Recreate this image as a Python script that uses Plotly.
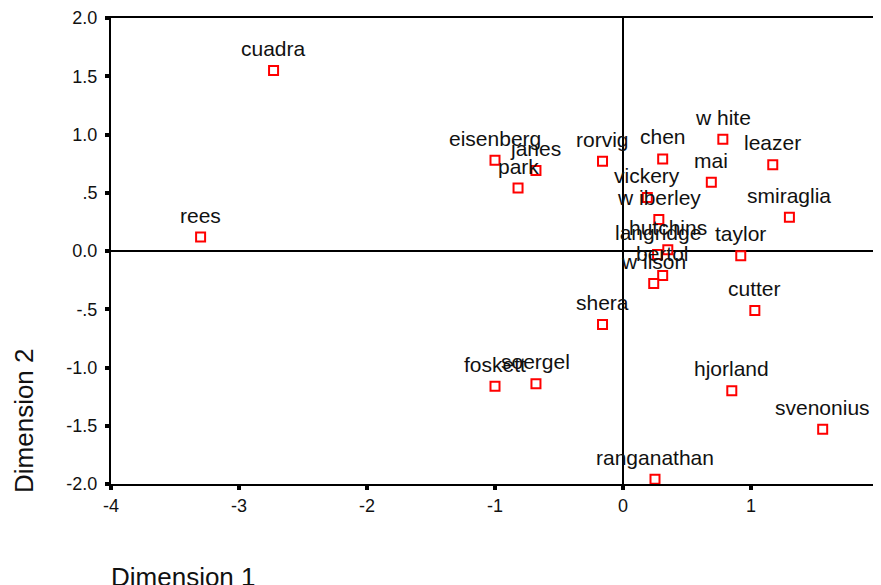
import plotly.graph_objects as go

names = ["cuadra", "rees", "eisenberg", "janes", "park", "rorvig", "chen", "white",
         "leazer", "mai", "vickery", "wiberley", "smiraglia", "hutchins", "langridge",
         "taylor", "bertol", "wilson", "cutter", "shera", "foskett", "soergel",
         "hjorland", "svenonius", "ranganathan"]
dim1 = [-2.73, -3.30, -1.00, -0.68, -0.82, -0.16, 0.31, 0.78,
        1.17, 0.69, 0.19, 0.28, 1.30, 0.35, 0.27,
        0.92, 0.31, 0.24, 1.03, -0.16, -1.00, -0.68,
        0.85, 1.56, 0.25]
dim2 = [1.55, 0.12, 0.78, 0.69, 0.54, 0.77, 0.79, 0.96,
        0.74, 0.59, 0.46, 0.27, 0.29, 0.01, -0.03,
        -0.04, -0.21, -0.28, -0.51, -0.63, -1.16, -1.14,
        -1.20, -1.53, -1.96]
display_names = ["cuadra", "rees", "eisenberg", "janes", "park", "rorvig", "chen", "w hite",
                 "leazer", "mai", "vickery", "w iberley", "smiraglia", "hutchins", "langridge",
                 "taylor", "bertol", "w ilson", "cutter", "shera", "foskett", "soergel",
                 "hjorland", "svenonius", "ranganathan"]

x_ticks = [-4, -3, -2, -1, 0, 1, 2]
x_ticklabels = ["-4", "-3", "-2", "-1", "0", "1", "2"]
y_ticks = [2.0, 1.5, 1.0, 0.5, 0.0, -0.5, -1.0, -1.5, -2.0]
y_ticklabels = ["2.0", "1.5", "1.0", ".5", "0.0", "-.5", "-1.0", "-1.5", "-2.0"]

FONT = "Liberation Sans, Arial, sans-serif"

fig = go.Figure()
fig.add_trace(go.Scatter(
    x=dim1, y=dim2, mode="markers",
    marker=dict(symbol="square", size=9, color="white",
                line=dict(color="#ff0000", width=2)),
    hoverinfo="text", text=names, showlegend=False, cliponaxis=False,
))

annotations = []
for n, xv, yv in zip(display_names, dim1, dim2):
    annotations.append(dict(x=xv, y=yv, xref="x", yref="y", text=n, showarrow=False,
                            yshift=22, xanchor="center", yanchor="middle",
                            font=dict(family=FONT, size=21, color="#111111")))

annotations.append(dict(x=0, y=0, xref="paper", yref="paper", text="Dimension 1",
                        showarrow=False, xanchor="left", yanchor="middle",
                        xshift=-2, yshift=-93,
                        font=dict(family=FONT, size=26, color="#111111")))
annotations.append(dict(x=0, y=0, xref="paper", yref="paper", text="Dimension 2",
                        showarrow=False, textangle=-90, xanchor="center", yanchor="middle",
                        xshift=-87, yshift=63,
                        font=dict(family=FONT, size=26, color="#111111")))

# page body has an 8px margin; offset the figure so the plot area lands at 111..879 x 18..484
fig.update_layout(
    width=873, height=577,
    margin=dict(l=103, r=2, t=10, b=101),
    paper_bgcolor="white", plot_bgcolor="white",
    annotations=annotations,
    font=dict(family=FONT, size=18, color="#111111"),
)
fig.update_xaxes(
    range=[-4, 2], tickvals=x_ticks, ticktext=x_ticklabels,
    showgrid=False, zeroline=True, zerolinecolor="black", zerolinewidth=1.5,
    showline=True, linecolor="black", linewidth=2, mirror=True,
    ticks="outside", ticklen=4, tickwidth=4, tickcolor="black",
    tickfont=dict(family=FONT, size=18, color="#111111"), automargin=False,
    ticklabeloverflow="allow",
)
fig.update_yaxes(
    range=[-2, 2], tickvals=y_ticks, ticktext=y_ticklabels,
    showgrid=False, zeroline=True, zerolinecolor="black", zerolinewidth=1.5,
    showline=True, linecolor="black", linewidth=2, mirror=True,
    ticks="outside", ticklen=4, tickwidth=4, tickcolor="black",
    tickfont=dict(family=FONT, size=18, color="#111111"), automargin=False,
    ticklabelstandoff=4,
)

fig.write_html("out.html")
